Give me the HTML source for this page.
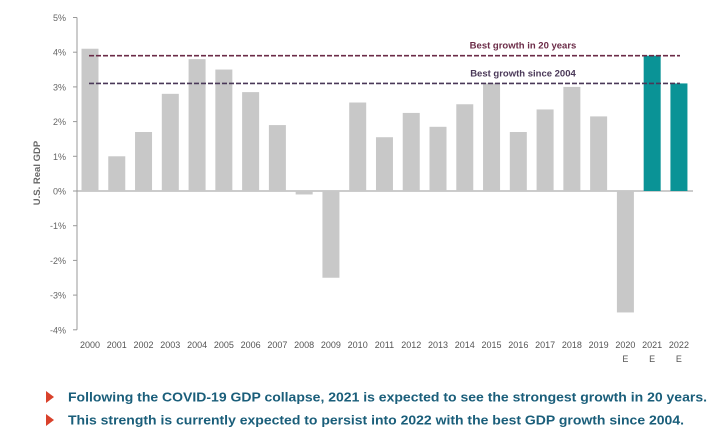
<!DOCTYPE html>
<html><head><meta charset="utf-8"><style>
html,body{margin:0;padding:0;background:#fff;}
svg{display:block;font-family:"Liberation Sans",sans-serif;}
</style></head><body>
<svg id="chart" width="716" height="447" viewBox="0 0 716 447">
<g id="axes"></g>
<g id="bars"></g>
<g id="refs"></g>
<text x="40" y="173" transform="rotate(-90 40 173)" text-anchor="middle" font-size="9.5" font-weight="bold" fill="#666">U.S. Real GDP</text>
<path d="M46 391 L54 397 L46 403 Z" fill="#d9412b"/>
<text x="68" y="401.5" font-size="13" font-weight="bold" fill="#1a5e7a" textLength="639" lengthAdjust="spacingAndGlyphs">Following the COVID-19 GDP collapse, 2021 is expected to see the strongest growth in 20 years.</text>
<path d="M46 414 L54 420 L46 426 Z" fill="#d9412b"/>
<text x="68" y="424.5" font-size="13" font-weight="bold" fill="#1a5e7a" textLength="616" lengthAdjust="spacingAndGlyphs">This strength is currently expected to persist into 2022 with the best GDP growth since 2004.</text>
</svg>
<script>
const years = ["2000","2001","2002","2003","2004","2005","2006","2007","2008","2009","2010","2011","2012","2013","2014","2015","2016","2017","2018","2019","2020","2021","2022"];
const estimate = [false,false,false,false,false,false,false,false,false,false,false,false,false,false,false,false,false,false,false,false,true,true,true];
const gdp = [4.1,1.0,1.7,2.8,3.8,3.5,2.85,1.9,-0.1,-2.5,2.55,1.55,2.25,1.85,2.5,3.1,1.7,2.35,3.0,2.15,-3.5,3.9,3.1];
const highlight = [false,false,false,false,false,false,false,false,false,false,false,false,false,false,false,false,false,false,false,false,false,true,true];
const yTicks = [5,4,3,2,1,0,-1,-2,-3,-4];
const yTickLabels = ["5%","4%","3%","2%","1%","0%","-1%","-2%","-3%","-4%"];
const refValues = [3.9,3.1];
const refLabels = ["Best growth in 20 years","Best growth since 2004"];

const NS="http://www.w3.org/2000/svg";
const y0=191, pxPer=34.7, x0=90, pitch=26.77, bw=17;
const yS=v=>y0-v*pxPer;
const xS=i=>x0+i*pitch;
function mk(tag,attrs,parent,txt){const e=document.createElementNS(NS,tag);for(const k in attrs)e.setAttribute(k,attrs[k]);if(txt!=null)e.textContent=txt;parent.appendChild(e);return e;}
const axes=document.getElementById('axes'),bars=document.getElementById('bars'),refs=document.getElementById('refs');
let l=mk('line',{x1:77,x2:77,y1:yS(5),y2:yS(-4),stroke:'#999','stroke-width':1},axes);


yTicks.forEach((t,i)=>{
  const tk=mk('line',{x1:73,x2:77,y1:yS(t),y2:yS(t),stroke:'#999'},axes);
  
  
  const tx=mk('text',{x:66,y:yS(t)+3.5,'text-anchor':'end','font-size':9,fill:'#666'},axes,yTickLabels[i]);
  
  
});
let zl=mk('line',{x1:77,x2:693,y1:y0,y2:y0,stroke:'#999'},axes);


gdp.forEach((v,i)=>{
  const top=Math.min(yS(v),y0),h=Math.abs(yS(v)-y0);
  const r=mk('rect',{x:xS(i)-bw/2,y:top,width:bw,height:h,fill:highlight[i]?'#0a9396':'#c8c8c8'},bars);
  
  
  const t=mk('text',{x:xS(i),y:348,'text-anchor':'middle','font-size':9,fill:'#555'},axes,years[i]);
  
  
  if(estimate[i]){
    const e=mk('text',{x:xS(i),y:362,'text-anchor':'middle','font-size':9,fill:'#555'},axes,'E');
    
    
  }
});
const refCols=['#6b2b47','#4a3858'];
refValues.forEach((v,i)=>{
  const ln=mk('line',{x1:89,x2:680,y1:yS(v),y2:yS(v),stroke:refCols[i],'stroke-width':1.6,'stroke-dasharray':'5 2'},refs);
  
  
  const tx=mk('text',{x:523,y:yS(v)-7,'text-anchor':'middle','font-size':9.5,'font-weight':'bold',fill:refCols[i]},refs,refLabels[i]);
  
  
});
</script>
</body></html>
